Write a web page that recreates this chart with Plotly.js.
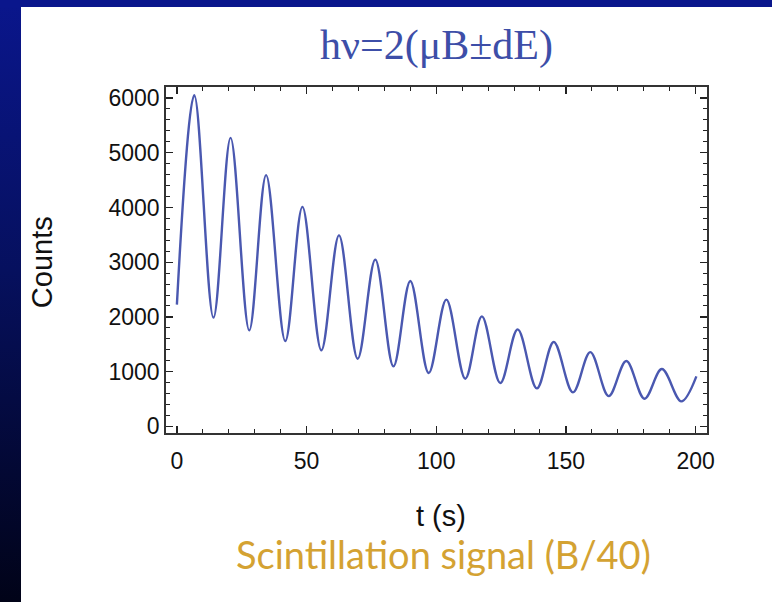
<!DOCTYPE html>
<html>
<head>
<meta charset="utf-8">
<script src="https://cdn.plot.ly/plotly-3.0.1.min.js"></script>
<style>
  html, body { margin:0; padding:0; width:772px; height:602px; overflow:hidden; }
  body { background: linear-gradient(to bottom, #0a168c 0%, #06105e 45%, #010318 100%); position:relative; }
  #top { position:absolute; left:0; top:0; width:772px; height:7px; background:#0a168c; }
  #chart { position:absolute; left:21px; top:7px; width:751px; height:595px; background:#fff; }
</style>
</head>
<body>
<div id="top"></div>
<div id="chart"></div>
<script>
// Extrema (time in s, counts)
const timeS = [0, 6.7, 14.1, 20.7, 27.9, 34.4, 41.8, 48.4, 55.7, 62.5, 69.7, 76.5, 83.5, 90.0, 97.1,
               103.9, 111.2, 117.6, 124.7, 131.4, 138.8, 145.3, 152.7, 159.4, 166.5, 173.3, 180.3, 187.0, 194.5, 200.3];
const counts = [2225, 6050, 1987, 5270, 1755, 4590, 1560, 4010, 1389, 3490, 1237, 3047, 1097, 2657, 975,
                2316, 872, 2011, 792, 1773, 695, 1541, 622, 1358, 554, 1194, 505, 1048, 457, 914];
const xTicks = [0, 50, 100, 150, 200];
const yTicks = [0, 1000, 2000, 3000, 4000, 5000, 6000];

const titleText = 'hν=2(μB±dE)';
const xTitle = 't (s)';
const yTitle = 'Counts';
const subText = 'Scintillation signal (B/40)';

const axisFont = {family: 'Liberation Sans, Arial, sans-serif', size: 23, color: '#111'};
const labelFont = {family: 'Liberation Sans, Arial, sans-serif', size: 29, color: '#111'};

const trace = {
  x: timeS, y: counts, type: 'scatter', mode: 'lines',
  line: {color: '#4a58b0', width: 2.4, shape: 'spline', smoothing: 1},
  hoverinfo: 'skip'
};

const common = {
  showline: true, linecolor: '#333', linewidth: 1.8, mirror: 'allticks',
  ticks: 'inside', ticklen: 7, tickwidth: 1.3, tickcolor: '#222',
  showgrid: false, zeroline: false, tickfont: axisFont,
};

const layout = {
  width: 751, height: 595,
  margin: {l: 145, r: 65, t: 80, b: 169},
  paper_bgcolor: '#ffffff', plot_bgcolor: '#ffffff',
  showlegend: false,
  title: {text: titleText, font: {family: 'Liberation Serif, Times New Roman, serif', size: 42, color: '#3d4ea8'},
          xref: 'paper', x: 0.5, xanchor: 'center', yref: 'container', y: 1 - 37/595, yanchor: 'middle'},
  xaxis: Object.assign({}, common, {
    range: [-4.2, 204.4], tickvals: xTicks, ticktext: xTicks.map(String),
    minor: {dtick: 10, tick0: 0, ticks: 'inside', ticklen: 4, tickcolor: '#222', tickwidth: 1},
    ticklabelstandoff: 7
  }),
  yaxis: Object.assign({}, common, {
    range: [-120, 6200], tickvals: yTicks, ticktext: yTicks.map(String),
    minor: {dtick: 200, tick0: 0, ticks: 'inside', ticklen: 4, tickcolor: '#222', tickwidth: 1}
  }),
  annotations: [
    {text: xTitle, xref: 'paper', yref: 'paper', x: 0.508, y: -0.24, xanchor: 'center', yanchor: 'middle',
     showarrow: false, font: labelFont},
    {text: yTitle, xref: 'paper', yref: 'paper', x: -0.229, y: 0.494, xanchor: 'center', yanchor: 'middle',
     textangle: -90, showarrow: false, font: labelFont},
    {text: subText, xref: 'paper', yref: 'paper', x: 0.5125, y: -0.35, xanchor: 'center', yanchor: 'middle',
     showarrow: false, font: {family: 'Lato, Open Sans, sans-serif', size: 38, color: '#d4a232'}}
  ]
};

Plotly.newPlot('chart', [trace], layout, {displayModeBar: false, staticPlot: true});
</script>
</body>
</html>
